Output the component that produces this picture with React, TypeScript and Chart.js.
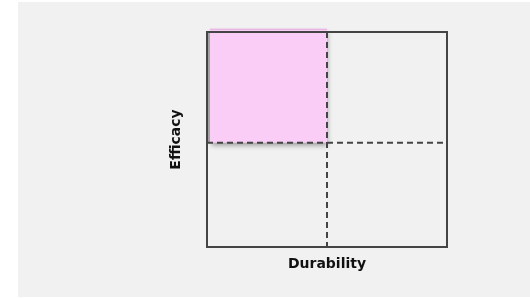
import React, { useEffect, useRef } from "react";
import { Chart, registerables } from "chart.js";

Chart.register(...registerables);

// Axis ranges
const xRange = [0, 10];
const yRange = [0, 10];
// Quadrant dividers
const xDivider = [5];
const yDivider = [4.85];
// Highlighted quadrant box [min, max]
const boxX = [0.12, 5];
const boxY = [4.85, 10.15];
const axisTitles = ["Durability", "Efficacy"];

const quadPlugin = {
  id: "quadPlugin",
  beforeDatasetsDraw(chart: any) {
    const { ctx, chartArea, scales } = chart;
    const x = scales.x;
    const y = scales.y;
    ctx.save();
    // left gray strip of the highlighted box
    const gx0 = x.getPixelForValue(xRange[0]);
    const gx1 = x.getPixelForValue(boxX[0]);
    const by0 = y.getPixelForValue(boxY[1]);
    const by1 = y.getPixelForValue(boxY[0]);
    const topY = y.getPixelForValue(yRange[1]);
    ctx.fillStyle = "#a8a8a8";
    ctx.fillRect(gx0, topY, gx1 - gx0 + 1, by1 - topY);
    // pink box with shadow
    const bx0 = x.getPixelForValue(boxX[0]);
    const bx1 = x.getPixelForValue(boxX[1]);
    ctx.shadowColor = "rgba(0,0,0,0.35)";
    ctx.shadowBlur = 5;
    ctx.shadowOffsetY = 3;
    ctx.shadowOffsetX = 1;
    ctx.fillStyle = "#f9cdf6";
    ctx.fillRect(bx0, by0, bx1 - bx0, by1 - by0);
    ctx.shadowColor = "transparent";
    ctx.shadowBlur = 0;
    ctx.shadowOffsetY = 0;
    ctx.shadowOffsetX = 0;
    ctx.fillStyle = "#e0b0da";
    ctx.fillRect(bx0, by0, bx1 - bx0, 1);

    // dashed dividers
    ctx.strokeStyle = "#444444";
    ctx.lineWidth = 2;
    ctx.setLineDash([6, 4]);
    const vx = x.getPixelForValue(xDivider[0]);
    ctx.beginPath();
    ctx.moveTo(vx, chartArea.top);
    ctx.lineTo(vx, chartArea.bottom);
    ctx.stroke();
    const hy = y.getPixelForValue(yDivider[0]);
    ctx.beginPath();
    ctx.moveTo(chartArea.left, hy);
    ctx.lineTo(chartArea.right, hy);
    ctx.stroke();
    ctx.setLineDash([]);

    // frame
    ctx.strokeRect(
      chartArea.left,
      chartArea.top,
      chartArea.right - chartArea.left,
      chartArea.bottom - chartArea.top
    );
    ctx.restore();
  },
};

export default function App() {
  const ref = useRef<HTMLCanvasElement | null>(null);
  useEffect(() => {
    if (!ref.current) return;
    const font = { family: "'DejaVu Sans', sans-serif", size: 14, weight: 600 as any };
    const chart = new Chart(ref.current, {
      type: "scatter",
      data: { datasets: [{ data: [], pointRadius: 0 }] },
      options: {
        animation: false,
        responsive: true,
        maintainAspectRatio: false,
        layout: { padding: { left: 145.6, right: 83, top: 30, bottom: 20.2 } },
        plugins: { legend: { display: false }, tooltip: { enabled: false } },
        scales: {
          x: {
            min: xRange[0],
            max: xRange[1],
            ticks: { display: false },
            grid: { display: false, drawTicks: false },
            border: { display: false },
            title: {
              display: true,
              text: axisTitles[0],
              color: "#111111",
              font,
              padding: { top: 9, bottom: 4 },
            },
          },
          y: {
            min: yRange[0],
            max: yRange[1],
            ticks: { display: false },
            grid: { display: false, drawTicks: false },
            border: { display: false },
            title: {
              display: true,
              text: axisTitles[1],
              color: "#111111",
              font,
              padding: { top: 4, bottom: 22.6 },
            },
          },
        },
      },
      plugins: [quadPlugin],
    });
    return () => chart.destroy();
  }, []);
  return (
    <div
      style={{
        position: "absolute",
        left: 18,
        top: 2,
        width: 512,
        height: 295,
        background: "#f1f1f1",
      }}
    >
      <canvas ref={ref} />
    </div>
  );
}
